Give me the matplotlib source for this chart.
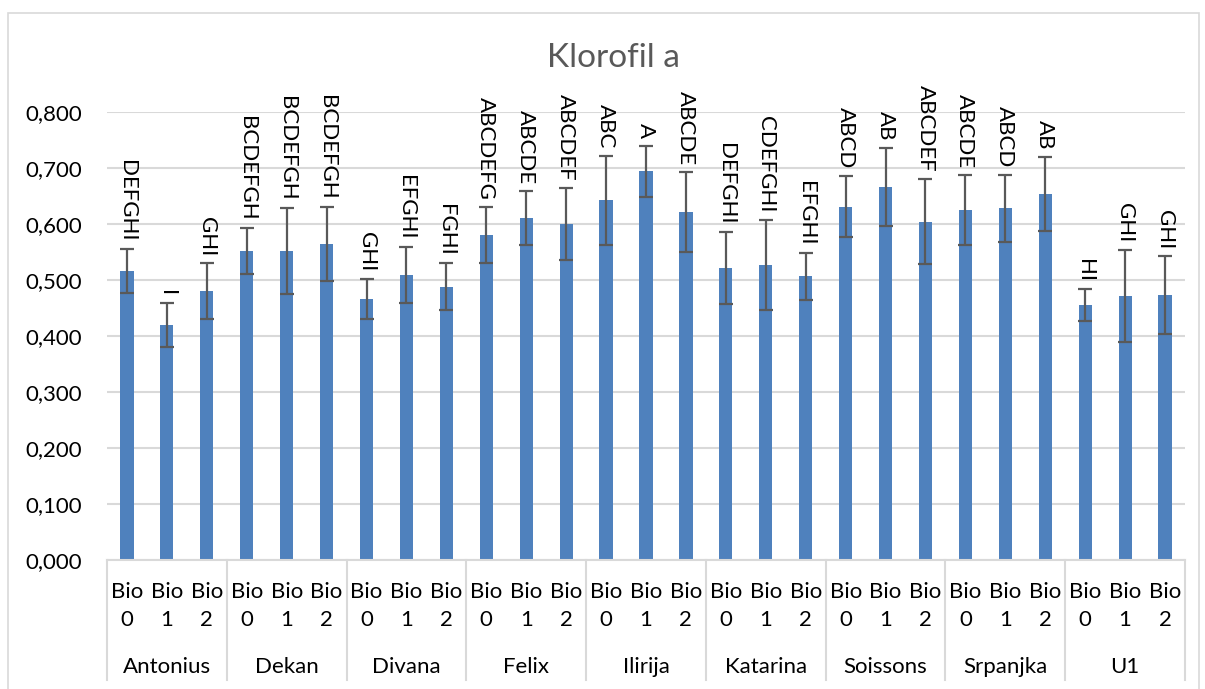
import matplotlib.pyplot as plt
import matplotlib.transforms as mtransforms
from matplotlib.patches import Rectangle
import numpy as np

plt.rcParams['font.family'] = ['Lato', 'DejaVu Sans']

# podaci
sorte = ["Antonius", "Dekan", "Divana", "Felix", "Ilirija",
         "Katarina", "Soissons", "Srpanjka", "U1"]
tretmani = ["Bio\n0", "Bio\n1", "Bio\n2"]
vrijednosti = [0.516, 0.420, 0.480,
               0.552, 0.552, 0.564,
               0.466, 0.509, 0.488,
               0.580, 0.611, 0.600,
               0.642, 0.694, 0.621,
               0.522, 0.527, 0.507,
               0.631, 0.666, 0.604,
               0.625, 0.628, 0.654,
               0.455, 0.472, 0.473]
greske = [0.039, 0.039, 0.050,
          0.041, 0.077, 0.066,
          0.036, 0.050, 0.042,
          0.050, 0.048, 0.065,
          0.080, 0.046, 0.071,
          0.064, 0.080, 0.042,
          0.055, 0.070, 0.076,
          0.062, 0.060, 0.066,
          0.029, 0.082, 0.069]
slova = ["DEFGHI", "I", "GHI",
         "BCDEFGH", "BCDEFGH", "BCDEFGH",
         "GHI", "EFGHI", "FGHI",
         "ABCDEFG", "ABCDE", "ABCDEF",
         "ABC", "A", "ABCDE",
         "DEFGHI", "CDEFGHI", "EFGHI",
         "ABCD", "AB", "ABCDEF",
         "ABCDE", "ABCD", "AB",
         "HI", "GHI", "GHI"]

n = len(vrijednosti)
x = np.arange(n)
siva = "#595959"

fig = plt.figure(figsize=(12.05, 6.89), dpi=100)
ax = fig.add_axes([107/1205, 1-560/689, (1185-107)/1205, (560-112)/689])

ax.bar(x, vrijednosti, width=0.33, color="#4F81BD", zorder=2)
ax.errorbar(x, vrijednosti, yerr=greske, fmt="none", ecolor=siva,
            elinewidth=1.6, capsize=5, capthick=1.6, zorder=3)
for xi, v, e, s in zip(x, vrijednosti, greske, slova):
    ax.text(xi, v + e + 0.013, s, rotation=270, ha="center", va="bottom",
            fontsize=16, color="black")

ax.set_xlim(-0.5, n - 0.5)
ax.set_ylim(0, 0.8)
ax.set_yticks(np.arange(0, 0.81, 0.1))
ax.set_yticklabels([f"{t:.3f}".replace(".", ",") for t in np.arange(0, 0.81, 0.1)])
ax.yaxis.grid(True, color="#D9D9D9", linewidth=1.5, zorder=0)
ax.set_axisbelow(True)
ax.set_xticks(x)
ax.set_xticklabels(tretmani * len(sorte), linespacing=1.5)
ax.tick_params(axis="both", length=0, labelsize=16, colors="black")
ax.tick_params(axis="x", pad=16)
ax.tick_params(axis="y", pad=18)
for sp in ["left", "right", "top"]:
    ax.spines[sp].set_visible(False)
ax.spines["bottom"].set_color("#D9D9D9")
ax.spines["bottom"].set_linewidth(1.5)

# dvije razine oznaka na x osi
trans = mtransforms.blended_transform_factory(ax.transData, ax.transAxes)
dno = -(680 - 560) / (560 - 112)
for i in range(len(sorte) + 1):
    ax.plot([i * 3 - 0.5, i * 3 - 0.5], [0, dno], transform=trans,
            color="#D9D9D9", linewidth=1.5, clip_on=False)
for i, s in enumerate(sorte):
    ax.text(i * 3 + 1, -(667 - 560) / (560 - 112), s, transform=trans,
            ha="center", va="center", fontsize=16)

fig.suptitle("Klorofil a", x=613/1205, y=1-58/689, va="center",
             fontsize=24, color=siva)

fig.patches.append(Rectangle((8/1205, -0.01), (1199-8)/1205, 1.01-13/689,
                             transform=fig.transFigure, fill=False,
                             edgecolor="#D9D9D9", linewidth=1.2))

fig.savefig("out.png", dpi=100)
